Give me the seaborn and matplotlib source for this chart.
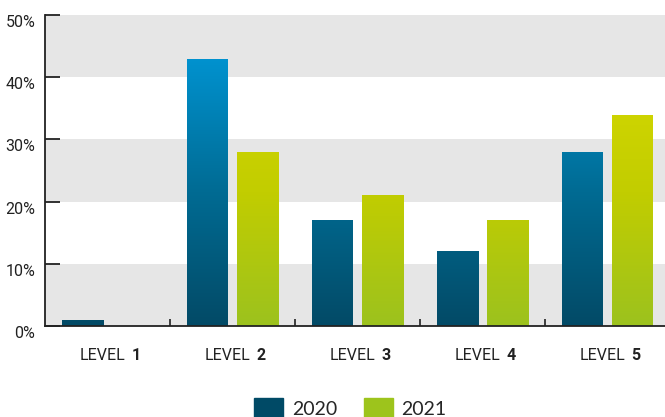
import numpy as np
import pandas as pd
import matplotlib.pyplot as plt
import matplotlib.transforms as mtransforms
from matplotlib.colors import LinearSegmentedColormap
from matplotlib.offsetbox import TextArea, HPacker, AnnotationBbox
import seaborn as sns

levels = ["1", "2", "3", "4", "5"]
years = ["2020", "2021"]
share_2020 = [1, 43, 17, 12, 28]
share_2021 = [0, 28, 21, 17, 34]

df = pd.DataFrame({
    "level": levels * 2,
    "year": ["2020"] * 5 + ["2021"] * 5,
    "share": share_2020 + share_2021,
})

sns.set_style("white")
label_font = ["Roboto", "DejaVu Sans"]

fig = plt.figure(figsize=(6.65, 4.17), dpi=100)
ax = fig.add_axes([45 / 665, 91 / 417, 620 / 665, 311 / 417])

# alternating background bands
for lo in (0, 20, 40):
    ax.axhspan(lo, lo + 10, color="#e6e6e6", zorder=0, lw=0)

sns.barplot(data=df, x="level", y="share", hue="year", hue_order=years,
            palette=["#004a66", "#9dc41c"], width=0.8, gap=0.18,
            ax=ax, legend=False, zorder=2, saturation=1)

cmaps = {
    "2020": LinearSegmentedColormap.from_list("b", ["#034a66", "#006b93", "#0092cf"]),
    "2021": LinearSegmentedColormap.from_list("g", ["#9cc21e", "#c2cd00", "#d6d900"]),
}
grad = np.linspace(0, 1, 256).reshape(-1, 1)
for i, p in enumerate(ax.patches[-10:]):
    yr = years[i // 5]
    x0 = p.get_x()
    w = p.get_width()
    if p.get_height() <= 0:
        continue
    im = ax.imshow(grad, cmap=cmaps[yr], origin="lower", aspect="auto",
                   extent=(x0, x0 + w, 0, 43), zorder=2.5)
    im.set_clip_path(p)
    p.set_facecolor("none")
    p.set_edgecolor("none")

ax.set_xlim(-0.5, -0.5 + 620 / 125)
ax.set_ylim(0, 50)

for s in ("top", "right"):
    ax.spines[s].set_visible(False)
for s in ("left", "bottom"):
    ax.spines[s].set_color("#222222")
    ax.spines[s].set_linewidth(1.3)
    ax.spines[s].set_zorder(4)

ax.set_yticks([0, 10, 20, 30, 40, 50])
ax.set_yticklabels([f"{v}%" for v in range(0, 60, 10)], fontsize=11.5,
                   family=label_font, color="#222222")
ax.tick_params(axis="y", left=True, direction="in", length=11, width=1.3,
               color="#222222", pad=7)
off = mtransforms.ScaledTranslation(0, -6 / 100, fig.dpi_scale_trans)
for lab in ax.get_yticklabels():
    lab.set_transform(lab.get_transform() + off)

ax.set_xticks([0.5, 1.5, 2.5, 3.5])
ax.set_xticklabels([])
ax.tick_params(axis="x", bottom=True, direction="in", length=5, width=1.2,
               color="#222222")
ax.set_xlabel("")
ax.set_ylabel("")

for i, lv in enumerate(levels):
    t1 = TextArea("LEVEL", textprops=dict(family=label_font, fontsize=11.5, color="#222222"))
    t2 = TextArea(lv, textprops=dict(family=label_font, fontsize=11.5, color="#222222",
                                     weight="bold"))
    box = HPacker(children=[t1, t2], sep=4, pad=0, align="baseline")
    ab = AnnotationBbox(box, (i, 0), xycoords=("data", "axes fraction"),
                        xybox=(2, -21), boxcoords="offset points",
                        frameon=False, box_alignment=(0.5, 0.5))
    ax.add_artist(ab)

handles = [plt.Rectangle((0, 0), 1, 1, color=c) for c in ("#004a66", "#9dc41c")]
fig.legend(handles, years, loc="center", bbox_to_anchor=(0.527, 0.02), ncol=2,
           frameon=False, handlelength=1.5, handleheight=1.35,
           columnspacing=1.35, handletextpad=0.45,
           prop=dict(family="Lato", size=14))

fig.savefig("out.png", dpi=100)
